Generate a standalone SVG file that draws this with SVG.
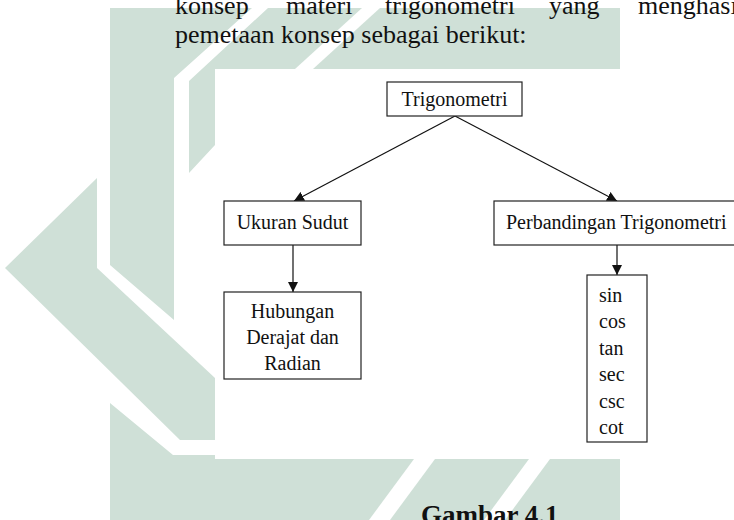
<svg xmlns="http://www.w3.org/2000/svg" width="734" height="520" viewBox="0 0 734 520">
<style>
.wm{fill:#cfe0d7;stroke:none}
.wh{fill:#ffffff;stroke:none}
.page{font-family:"Liberation Serif","Times New Roman",serif;font-size:26px;fill:#111}
.box{fill:#ffffff;stroke:#222;stroke-width:1.2}
.lbl{font-family:"Liberation Serif","Times New Roman",serif;font-size:20px;fill:#111}
.edge{stroke:#111;stroke-width:1.2;fill:none;marker-end:url(#arr)}
</style>
<defs>
<marker id="arr" viewBox="0 0 10 10" refX="10" refY="5" markerWidth="10" markerHeight="10" markerUnits="userSpaceOnUse" orient="auto">
<path d="M0,0 L10,5 L0,10 Z" fill="#111"/>
</marker>
</defs>
<rect width="734" height="520" fill="#ffffff"/>
<g id="watermark">
<polygon class="wm" points="110,8 620,8 620,69 215,69 215,145 189,173 189,90 174,90 174,320 110,265"/>
<polygon class="wh" points="252,8 268,8 189,81 189,100 174,100 174,78"/>
<polygon class="wh" points="362,8 380,8 313,69 295,69"/>
<polygon class="wm" points="5,268 97,178 97,268 215,378 215,440 180,440"/>
<polygon class="wm" points="110,403 173,455 620,455 620,520 110,520"/>
<polygon class="wh" points="414,459 435,459 390,520 369,520"/>
<polygon class="wh" points="529,459 550,459 505,520 484,520"/>
<rect class="wh" x="215" y="69" width="405" height="390"/>
</g>
<g id="page-text" class="page">
<text x="175" y="14">konsep</text>
<text x="286" y="14">materi</text>
<text x="385" y="14">trigonometri</text>
<text x="549" y="14">yang</text>
<text x="638" y="14">menghasi</text>
<text x="175" y="43">pemetaan konsep sebagai berikut:</text>
<text x="421" y="524" font-size="27" font-weight="bold">Gambar 4.1</text>
</g>
<g id="connectors">
<line class="edge" x1="455" y1="116" x2="294" y2="201"/>
<line class="edge" x1="455" y1="116" x2="617" y2="201"/>
<line class="edge" x1="293" y1="245" x2="293" y2="292"/>
<line class="edge" x1="617" y1="245" x2="617" y2="275"/>
</g>
<g id="node-trigonometri">
<rect class="box" x="387" y="82" width="135" height="34"/>
<text class="lbl" x="454.5" y="106" text-anchor="middle">Trigonometri</text>
</g>
<g id="node-ukuran-sudut">
<rect class="box" x="224" y="201" width="137" height="44"/>
<text class="lbl" x="292.5" y="229" text-anchor="middle">Ukuran Sudut</text>
</g>
<g id="node-perbandingan">
<rect class="box" x="494" y="201" width="250" height="44"/>
<text class="lbl" x="506" y="229">Perbandingan Trigonometri</text>
</g>
<g id="node-hubungan">
<rect class="box" x="224" y="292" width="137" height="87"/>
<text class="lbl" x="292.5" y="318" text-anchor="middle">Hubungan</text>
<text class="lbl" x="292.5" y="344" text-anchor="middle">Derajat dan</text>
<text class="lbl" x="292.5" y="370" text-anchor="middle">Radian</text>
</g>
<g id="node-fungsi">
<rect class="box" x="587" y="275" width="60" height="167"/>
<text class="lbl" x="599" y="302">sin</text>
<text class="lbl" x="599" y="328">cos</text>
<text class="lbl" x="599" y="355">tan</text>
<text class="lbl" x="599" y="381">sec</text>
<text class="lbl" x="599" y="408">csc</text>
<text class="lbl" x="599" y="434">cot</text>
</g>
</svg>
